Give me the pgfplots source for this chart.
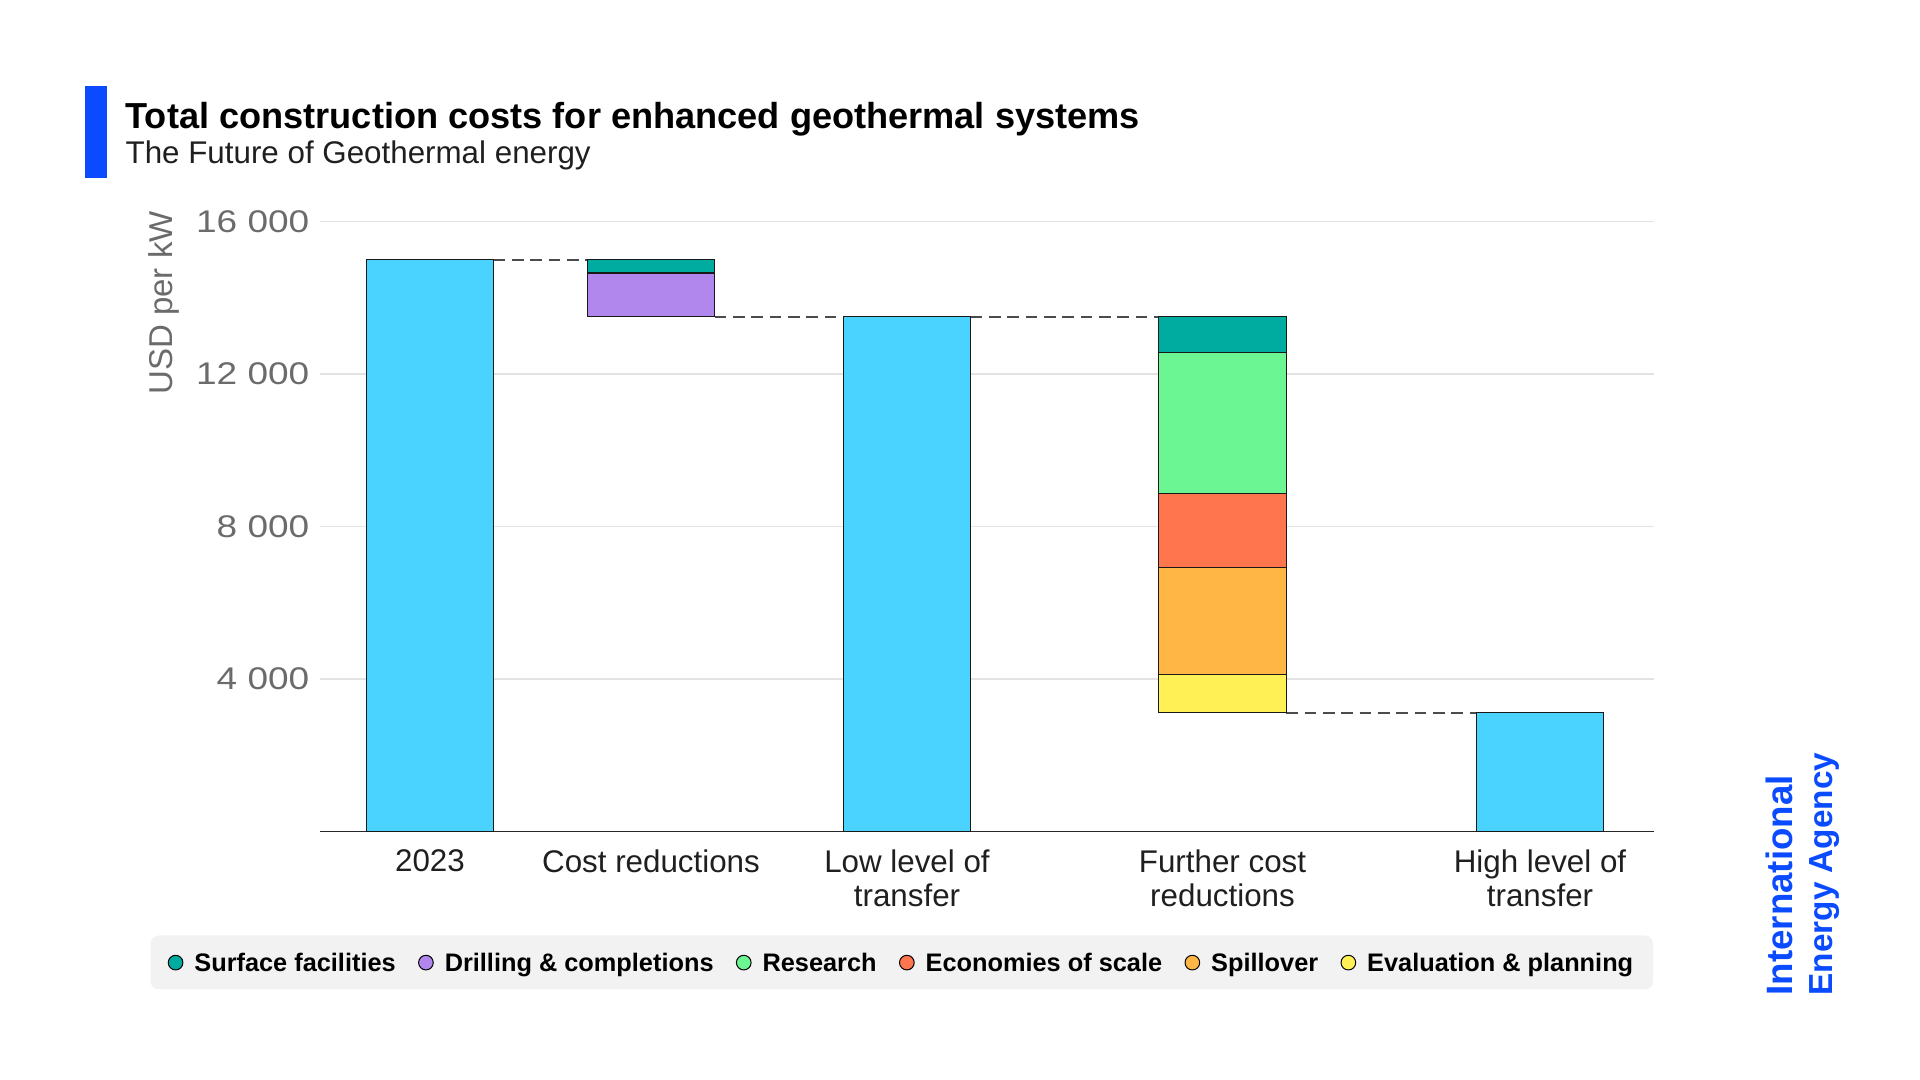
\documentclass[border=0pt]{standalone}
\usepackage{pgfplots}
\pgfplotsset{compat=1.18}
\usepackage{fontspec}
\setmainfont{Liberation Sans}
\newfontfamily\tickfont[FakeStretch=1.18]{Liberation Sans}
\definecolor{cyanbar}{HTML}{4AD3FF}
\definecolor{teal1}{HTML}{00ACA0}
\definecolor{purple1}{HTML}{B187EE}
\definecolor{green1}{HTML}{6BF593}
\definecolor{red1}{HTML}{FF754D}
\definecolor{orange1}{HTML}{FFB644}
\definecolor{yellow1}{HTML}{FFF056}
\definecolor{ieablue}{HTML}{0A4BFF}
\definecolor{tickgray}{HTML}{6B6B6B}
\definecolor{labelblack}{HTML}{1F1F1F}
\definecolor{gridgray}{HTML}{E3E3E3}
\definecolor{legbg}{HTML}{F2F2F2}
\begin{document}
\begin{tikzpicture}[x=0.3pt,y=0.3pt]
\path[use as bounding box] (0,0) rectangle (1920,1080);
% title block
\fill[ieablue] (84.5,902.4) rectangle (106.5,994.3);
\node[anchor=base west, inner sep=0pt] at (124.9,951.4) {\fontsize{10.85}{12}\selectfont\bfseries Total construction costs for enhanced geothermal systems};
\node[anchor=base west, inner sep=0pt, text=labelblack] at (125,916) {\fontsize{9.4}{11}\selectfont The Future of Geothermal energy};
% y label
\node[rotate=90, anchor=east, inner sep=0pt, text=tickgray] at (163.5,869.4) {\fontsize{9.9}{11}\selectfont USD per kW};
% legend background
\fill[legbg, rounded corners=2.4pt] (150.6,90.6) rectangle (1653,144.5);
% IEA logo
\node[rotate=90, anchor=north west, inner sep=0pt, align=left, text=ieablue] at (1765,84) {\fontsize{11}{12.2}\selectfont\bfseries International\\ \bfseries Energy Agency};

\begin{axis}[
  at={(95.88pt,74.58pt)}, anchor=south west, scale only axis,
  width=400.32pt, height=182.94pt,
  xmin=319.6, xmax=1654, ymin=0, ymax=16000,
  enlargelimits=false,
  scaled y ticks=false,
  axis x line*=bottom, axis y line*=left,
  x axis line style={-, draw=black!85, line width=0.4pt},
  y axis line style={draw=none},
  tick style={draw=none},
  ymajorgrids, major grid style={draw=gridgray, line width=0.35pt},
  ytick={4000,8000,12000,16000},
  yticklabels={4 000,8 000,12 000,16 000},
  yticklabel style={font=\tickfont\fontsize{9.4}{11}\selectfont, text=tickgray, inner sep=0pt, anchor=east, xshift=-2.9pt},
  xtick={430,651,907,1222.5,1540},
  xticklabels={2023, Cost reductions, Low level of\\transfer, Further cost\\reductions, High level of\\transfer},
  xticklabel style={font=\fontsize{9.4}{10.2}\selectfont, text=labelblack, align=center, inner sep=0pt, anchor=north, yshift=-5.2pt},
]
\addplot[draw=black!70, line width=0.5pt, dash pattern=on 3.5pt off 2pt] coordinates {(493.75,15000) (587.25,15000)};
\addplot[draw=black!70, line width=0.5pt, dash pattern=on 3.5pt off 2pt] coordinates {(714.75,13500) (843.25,13500)};
\addplot[draw=black!70, line width=0.5pt, dash pattern=on 3.5pt off 2pt] coordinates {(970.75,13500) (1158.75,13500)};
\addplot[draw=black!70, line width=0.5pt, dash pattern=on 3.5pt off 2pt] coordinates {(1286.25,3110) (1476.25,3110)};
\end{axis}

\begin{axis}[
  at={(95.88pt,74.58pt)}, anchor=south west, scale only axis,
  width=400.32pt, height=182.94pt,
  xmin=319.6, xmax=1654, ymin=0, ymax=16000,
  enlargelimits=false,
  hide axis,
  ybar stacked, bar width=127.5,
  reverse legend,
  legend columns=-1,
  legend image code/.code={\draw[#1, draw=black, line width=0.3pt] (2.2pt,2.7pt) circle[radius=2.2pt];},
  legend style={at={(-0.1138,-0.219)}, anchor=west, draw=none, fill=none, inner sep=0pt, outer sep=0pt,
    font=\fontsize{7.6}{9}\selectfont\bfseries,
    nodes={inner sep=0pt, anchor=base west},
    /tikz/every odd column/.append style={column sep=3.3pt},
    /tikz/every even column/.append style={column sep=6.7pt}},
  legend cell align=left,
]
\addplot[forget plot, draw=none, fill=none] coordinates {(430,0) (651,13500) (907,0) (1222.5,3110) (1540,0)};
\addplot[forget plot, fill=cyanbar, draw=black!90, line width=0.35pt] coordinates {(430,15000) (651,0) (907,13500) (1222.5,0) (1540,3110)};
\addplot[fill=yellow1, draw=black!90, line width=0.35pt] coordinates {(430,0) (651,0) (907,0) (1222.5,1000) (1540,0)};
\addlegendentry{Evaluation \& planning}
\addplot[fill=orange1, draw=black!90, line width=0.35pt] coordinates {(430,0) (651,0) (907,0) (1222.5,2820) (1540,0)};
\addlegendentry{Spillover}
\addplot[fill=red1, draw=black!90, line width=0.35pt] coordinates {(430,0) (651,0) (907,0) (1222.5,1940) (1540,0)};
\addlegendentry{Economies of scale}
\addplot[fill=green1, draw=black!90, line width=0.35pt] coordinates {(430,0) (651,0) (907,0) (1222.5,3700) (1540,0)};
\addlegendentry{Research}
\addplot[fill=purple1, draw=black!90, line width=0.35pt] coordinates {(430,0) (651,1150) (907,0) (1222.5,0) (1540,0)};
\addlegendentry{Drilling \& completions}
\addplot[fill=teal1, draw=black!90, line width=0.35pt] coordinates {(430,0) (651,350) (907,0) (1222.5,930) (1540,0)};
\addlegendentry{Surface facilities}
\end{axis}
\end{tikzpicture}
\end{document}
